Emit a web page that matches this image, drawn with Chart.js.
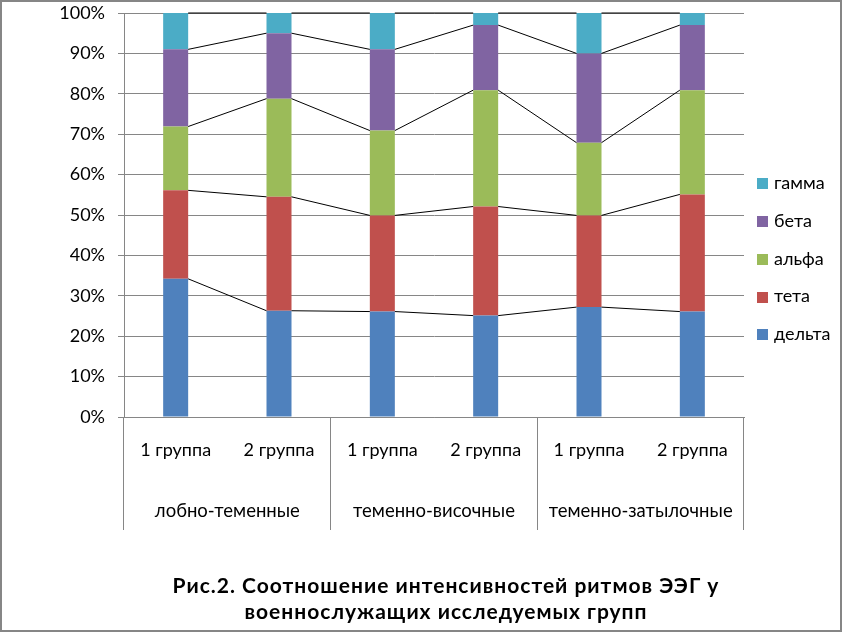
<!DOCTYPE html>
<html>
<head>
<meta charset="utf-8">
<script src="https://cdn.jsdelivr.net/npm/chart.js@4.4.0/dist/chart.umd.min.js"></script>
<style>
html,body{margin:0;padding:0;background:#fff;}
#wrap{position:relative;width:842px;height:632px;}
canvas{display:block;}
</style>
</head>
<body>
<div id="wrap"><canvas id="c" width="842" height="632"></canvas></div>
<script>
// ---- data ----
const categories = ['1 группа', '2 группа', '1 группа', '2 группа', '1 группа', '2 группа'];
const groups = ['лобно-теменные', 'теменно-височные', 'теменно-затылочные'];
const seriesNames = ['дельта', 'тета', 'альфа', 'бета', 'гамма'];
const delta = [34.2, 26.3, 26.1, 25.1, 27.2, 26.1];
const theta = [21.9, 28.2, 23.8, 27.0, 22.7, 29.0];
const alpha = [15.8, 24.3, 21.0, 28.8, 18.0, 25.8];
const beta  = [19.1, 16.2, 20.1, 16.1, 22.1, 16.1];
const gamma = [9.0, 5.0, 9.0, 3.0, 10.0, 3.0];
const yTickLabels = ['0%', '10%', '20%', '30%', '40%', '50%', '60%', '70%', '80%', '90%', '100%'];
const titleLines = ['Рис.2. Соотношение интенсивностей ритмов ЭЭГ у', 'военнослужащих исследуемых групп'];

// ---- styles ----
const colors = ['#4F81BD', '#C0504D', '#9BBB59', '#8064A2', '#4BACC6'];
const GRID = '#868686';
const FONT = 'Lato';
Chart.defaults.font.family = FONT;
Chart.defaults.color = '#000';

const seriesValues = [delta, theta, alpha, beta, gamma];
const datasets = seriesNames.map((name, i) => ({
  label: name,
  data: seriesValues[i],
  backgroundColor: colors[i],
  borderWidth: 0,
  categoryPercentage: 1.0,
  barPercentage: 0.242
}));

// frame around whole chart
const framePlugin = {
  id: 'frame',
  beforeDraw(chart) {
    const ctx = chart.ctx;
    ctx.save();
    ctx.fillStyle = '#fff';
    ctx.fillRect(0, 0, chart.width, chart.height);
    ctx.restore();
  },
  afterDraw(chart) {
    const ctx = chart.ctx;
    ctx.save();
    ctx.strokeStyle = GRID;
    ctx.lineWidth = 2;
    ctx.strokeRect(1, 1, chart.width - 2, chart.height - 2);
    ctx.restore();
  }
};

// series lines between stacked segments
const seriesLinesPlugin = {
  id: 'seriesLines',
  afterDatasetsDraw(chart) {
    const ctx = chart.ctx;
    ctx.save();
    ctx.strokeStyle = '#000';
    ctx.lineWidth = 1;
    chart.data.datasets.forEach((ds, d) => {
      const els = chart.getDatasetMeta(d).data;
      ctx.beginPath();
      for (let i = 0; i < els.length - 1; i++) {
        const a = els[i], b = els[i + 1];
        ctx.moveTo(a.x + a.width / 2, a.y);
        ctx.lineTo(b.x - b.width / 2, b.y);
      }
      ctx.stroke();
    });
    ctx.restore();
  }
};

// legend on the right (reverse order, like the reference)
const sideLegendPlugin = {
  id: 'sideLegend',
  afterDraw(chart) {
    const ctx = chart.ctx;
    const ds = chart.data.datasets;
    ctx.save();
    ctx.font = '18px ' + FONT;
    ctx.textBaseline = 'middle';
    ctx.textAlign = 'left';
    for (let k = ds.length - 1, row = 0; k >= 0; k--, row++) {
      const y = 183.3 + row * 37.75;
      ctx.fillStyle = ds[k].backgroundColor;
      ctx.fillRect(757, Math.round(y - 5), 11, 11);
      ctx.fillStyle = '#000';
      ctx.fillText(ds[k].label, 774, y);
    }
    ctx.restore();
  }
};

// bottom caption
const captionPlugin = {
  id: 'caption',
  afterDraw(chart) {
    const ctx = chart.ctx;
    ctx.save();
    ctx.font = 'bold 21px ' + FONT;
    try { ctx.letterSpacing = '1px'; } catch (e) {}
    ctx.textBaseline = 'alphabetic';
    ctx.textAlign = 'center';
    ctx.fillStyle = '#000';
    ctx.fillText(titleLines[0], 446, 593);
    ctx.fillText(titleLines[1], 446, 619);
    ctx.restore();
  }
};

new Chart(document.getElementById('c'), {
  type: 'bar',
  data: { labels: categories, datasets: datasets },
  options: {
    responsive: false,
    animation: false,
    layout: { padding: { top: 13, right: 98, bottom: 0, left: 0 } },
    plugins: {
      legend: { display: false },
      title: { display: false },
      tooltip: { enabled: false }
    },
    scales: {
      x: {
        type: 'category',
        stacked: true,
        offset: true,
        weight: 0,
        grid: {
          display: true,
          drawOnChartArea: false,
          drawTicks: true,
          tickLength: 113,
          offset: true,
          lineWidth: 1,
          color: (c) => (c.index === undefined || c.index % 2 === 0) ? GRID : 'rgba(0,0,0,0)'
        },
        border: { display: true, color: GRID, width: 1 },
        ticks: {
          autoSkip: false,
          maxRotation: 0,
          minRotation: 0,
          padding: -90.8,
          font: { size: 18, family: FONT },
          color: '#000'
        },
        afterFit: (s) => { s.height = 60; }
      },
      x2: {
        type: 'category',
        labels: groups,
        position: 'bottom',
        offset: true,
        weight: 1,
        grid: { display: false, drawTicks: false, drawOnChartArea: false },
        border: { display: false },
        ticks: {
          autoSkip: false,
          maxRotation: 0,
          minRotation: 0,
          padding: 22.7,
          font: { size: 18.5, family: FONT },
          color: '#000'
        },
        afterFit: (s) => { s.height = 155; }
      },
      y: {
        stacked: true,
        min: 0,
        max: 100,
        ticks: {
          stepSize: 10,
          padding: 13,
          font: { size: 18, family: FONT },
          color: '#000',
          callback: (v, i) => yTickLabels[i]
        },
        grid: { color: GRID, lineWidth: 1, drawTicks: true, tickLength: 6 },
        border: { display: true, color: GRID, width: 1 },
        afterFit: (s) => { s.width = 124; s.paddingTop = 10; s.paddingBottom = 10; }
      }
    }
  },
  plugins: [framePlugin, seriesLinesPlugin, sideLegendPlugin, captionPlugin]
});
</script>
</body>
</html>
